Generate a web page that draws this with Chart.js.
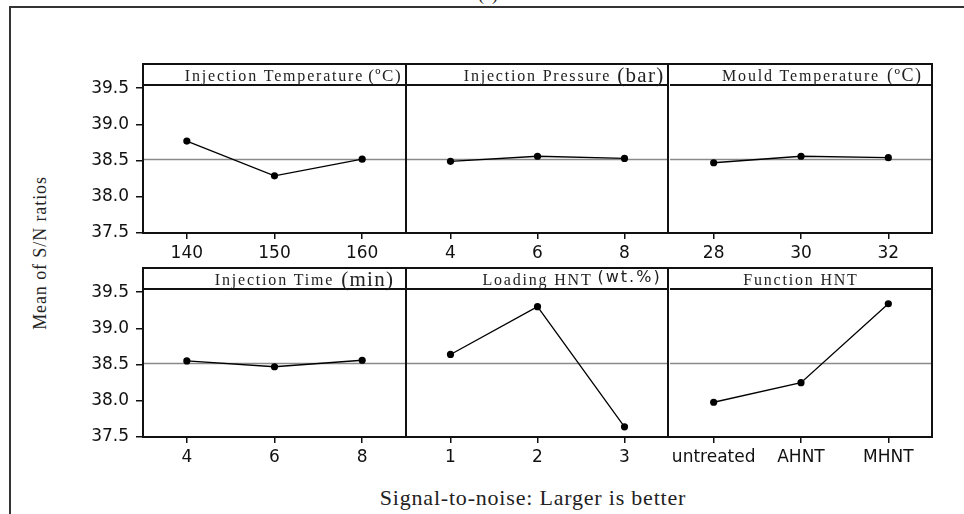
<!DOCTYPE html>
<html>
<head>
<meta charset="utf-8">
<script src="https://cdn.jsdelivr.net/npm/chart.js@4/dist/chart.umd.min.js"></script>
<style>
  html, body { margin: 0; padding: 0; width: 964px; height: 514px; overflow: hidden; background: #fff; }
  #frame { position: absolute; left: 9px; top: 6px; width: 1000px; height: 600px; border: 2px solid #333; box-sizing: border-box; }
  #title { position: absolute; left: 478px; top: -15px; font: 18px "Liberation Serif"; line-height: 18px; color: #222; }
  #ylab { position: absolute; left: -60px; top: 242px; width: 200px; text-align: center; font: 18px "Liberation Serif"; line-height: 22px; letter-spacing: 0.9px; color: #222; transform: rotate(-90deg); }
  #xlab { position: absolute; left: 333px; top: 487px; width: 400px; text-align: center; font: 22px "Liberation Serif"; line-height: 22px; letter-spacing: 0.8px; color: #222; }
  canvas.panel { position: absolute; }
</style>
</head>
<body>
<div id="frame"></div>
<div id="title">(a)</div>
<div id="ylab">Mean of S/N ratios</div>
<div id="xlab">Signal-to-noise: Larger is better</div>

<script>
// ---- データ ----
const injTempLevels = ['140', '150', '160'];
const injTempSN = [38.77, 38.29, 38.52];

const injPressLevels = ['4', '6', '8'];
const injPressSN = [38.49, 38.56, 38.53];

const mouldTempLevels = ['28', '30', '32'];
const mouldTempSN = [38.47, 38.56, 38.54];

const injTimeLevels = ['4', '6', '8'];
const injTimeSN = [38.55, 38.47, 38.56];

const loadingLevels = ['1', '2', '3'];
const loadingSN = [38.64, 39.30, 37.64];

const functionLevels = ['untreated', 'AHNT', 'MHNT'];
const functionSN = [37.98, 38.25, 39.34];

const overallMean = 38.525;
const yTicks = [37.5, 38.0, 38.5, 39.0, 39.5];
const yMin = 37.5;
const yMax = 39.544;

// ---- パネル定義 ----
const panels = [
  { title: 'Injection Temperature', unit: '(ºC)', labels: injTempLevels, values: injTempSN },
  { title: 'Injection Pressure', unit: '(bar)', labels: injPressLevels, values: injPressSN },
  { title: 'Mould Temperature', unit: '(ºC)', labels: mouldTempLevels, values: mouldTempSN },
  { title: 'Injection Time', unit: '(min)', labels: injTimeLevels, values: injTimeSN },
  { title: 'Loading HNT', unit: '(wt.%)', labels: loadingLevels, values: loadingSN },
  { title: 'Function HNT', unit: '', labels: functionLevels, values: functionSN },
];

// 単位の書体（元図では後から書き足したような見た目）
const unitStyles = [
  { font: '17px "Liberation Serif"', spacing: '1.5px', gap: 4, dy: 0 },
  { font: '21px "Liberation Serif"', spacing: '1.3px', gap: 6, dy: 1 },
  { font: '18px "Liberation Serif"', spacing: '1.5px', gap: 7, dy: 0 },
  { font: '21px "Liberation Serif"', spacing: '1.3px', gap: 7, dy: 1 },
  { font: '16px "DejaVu Sans"', spacing: '2px', gap: 5, dy: -3 },
  null,
];

// ---- レイアウト ----
const colLeft = [143, 407, 670];
const colW = [264, 263, 264];
const rowTop = [64, 268];
const headerH = 21;
const plotH = 148;
const xAxisH = 33;
const yAxisW = 60;
const edge = 3;
const tickFont = { family: '"DejaVu Sans", Verdana, sans-serif', size: 17 };
const inkColor = '#111';

// 枠・見出し・平均線
const panelDeco = {
  id: 'panelDeco',
  beforeDatasetsDraw(chart) {
    const { ctx, chartArea: a, scales } = chart;
    const y = Math.round(scales.y.getPixelForValue(overallMean)) + 0.5;
    ctx.save();
    ctx.strokeStyle = '#8a8a8a';
    ctx.lineWidth = 1.5;
    ctx.beginPath();
    ctx.moveTo(a.left, y);
    ctx.lineTo(a.right, y);
    ctx.stroke();
    ctx.restore();
  },
  afterDraw(chart) {
    const { ctx, chartArea: a } = chart;
    const p = chart.config.options.plugins.panelDeco;
    const top = a.top - headerH;
    ctx.save();
    ctx.strokeStyle = inkColor;
    ctx.lineWidth = 2;
    ctx.beginPath();
    // 左端の列だけ左線を引く（隣のパネルの右線と重ねない）
    if (p.col === 0) {
      ctx.moveTo(a.left, top);
      ctx.lineTo(a.left, a.bottom);
    }
    ctx.moveTo(a.left - 1, top);
    ctx.lineTo(a.right + 1, top);
    ctx.moveTo(a.right, top);
    ctx.lineTo(a.right, a.bottom);
    ctx.moveTo(a.left - 1, a.bottom);
    ctx.lineTo(a.right + 1, a.bottom);
    ctx.moveTo(a.left, a.top);
    ctx.lineTo(a.right, a.top);
    ctx.stroke();

    // 見出し（中央）＋単位
    const by = a.top - 4.5;
    ctx.fillStyle = '#222';
    ctx.textAlign = 'left';
    ctx.textBaseline = 'alphabetic';
    ctx.font = '16px "Liberation Serif"';
    ctx.letterSpacing = '1.8px';
    const w = ctx.measureText(p.title).width;
    const x0 = (a.left + a.right) / 2 - w / 2;
    ctx.fillText(p.title, x0, by);
    if (p.unit && p.unitStyle) {
      ctx.font = p.unitStyle.font;
      ctx.letterSpacing = p.unitStyle.spacing;
      ctx.fillText(p.unit, x0 + w + p.unitStyle.gap, by + p.unitStyle.dy);
    }
    ctx.restore();
  },
};

panels.forEach((p, i) => {
  const row = Math.floor(i / 3);
  const col = i % 3;
  const leftExtra = col === 0 ? yAxisW : edge;

  const canvas = document.createElement('canvas');
  canvas.className = 'panel';
  const cw = leftExtra + colW[col] + edge;
  const chh = edge + headerH + plotH + xAxisH;
  canvas.width = cw;
  canvas.height = chh;
  canvas.style.width = cw + 'px';
  canvas.style.height = chh + 'px';
  document.body.appendChild(canvas);

  const chart = new Chart(canvas, {
    type: 'line',
    data: {
      labels: p.labels,
      datasets: [{
        data: p.values,
        borderColor: '#000',
        borderWidth: 1.3,
        pointRadius: 3.6,
        pointBackgroundColor: '#000',
        pointBorderWidth: 0,
        tension: 0,
      }],
    },
    options: {
      responsive: false,
      animation: false,
      devicePixelRatio: 1,
      layout: { padding: { left: col === 0 ? 0 : edge, right: edge, top: edge + headerH, bottom: 0 } },
      plugins: {
        legend: { display: false },
        tooltip: { enabled: false },
        panelDeco: { title: p.title, unit: p.unit, unitStyle: unitStyles[i], col },
      },
      scales: {
        x: {
          type: 'category',
          offset: true,
          grid: { display: true, drawOnChartArea: false, drawTicks: true, tickLength: 6, color: inkColor, lineWidth: 1.5 },
          border: { display: false },
          ticks: { font: tickFont, color: inkColor, padding: 4, maxRotation: 0, autoSkip: false },
          afterFit: (s) => { s.height = xAxisH; },
        },
        y: {
          type: 'linear',
          display: col === 0,
          min: yMin,
          max: yMax,
          afterBuildTicks: (s) => { s.ticks = yTicks.map((v) => ({ value: v })); },
          grid: { display: true, drawOnChartArea: false, drawTicks: true, tickLength: 7, color: inkColor, lineWidth: 1.5 },
          border: { display: false },
          ticks: { font: tickFont, color: inkColor, padding: 7, callback: (v) => Number(v).toFixed(1) },
          afterFit: (s) => { if (s.options.display) s.width = yAxisW; },
        },
      },
    },
    plugins: [panelDeco],
  });

  // 描画領域の実寸を合わせる
  const a0 = chart.chartArea;
  const dw = colW[col] - Math.round(a0.right - a0.left);
  const dh = plotH - Math.round(a0.bottom - a0.top);
  if (dw !== 0 || dh !== 0) chart.resize(cw + dw, chh + dh);
  const a = chart.chartArea;
  canvas.style.left = Math.round(colLeft[col] - a.left) + 'px';
  canvas.style.top = Math.round(rowTop[row] + headerH - a.top) + 'px';
});
</script>
</body>
</html>
